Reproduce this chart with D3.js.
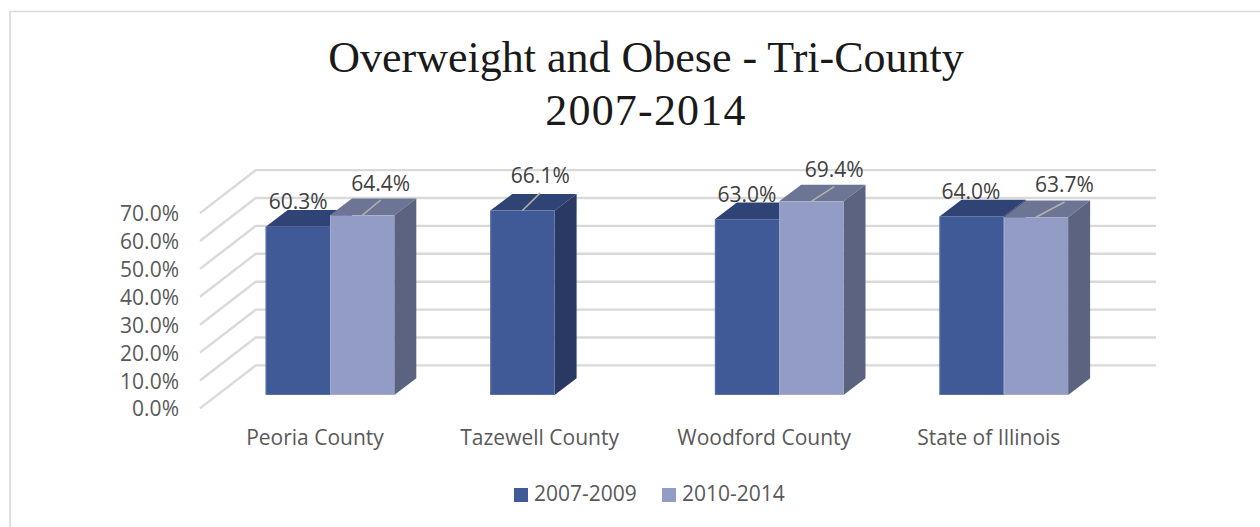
<!DOCTYPE html>
<html lang="en">
<head>
  <meta charset="UTF-8">
  <title>Overweight and Obese - Tri-County</title>
  <script src="https://d3js.org/d3.v7.min.js"></script>
  <style>
    html, body { margin: 0; padding: 0; background: #fff; }
    svg { display: block; }
    text { font-family: "Open Sans", sans-serif; }
    .title { font-family: "Liberation Serif", serif; font-size: 44px; fill: #1a1a1a; text-anchor: middle; }
    .tick-label text, .cat { font-size: 21px; fill: #595959; }
    .value { font-size: 21px; fill: #404040; text-anchor: middle; }
    .legend { font-size: 21px; fill: #595959; }
  </style>
</head>
<body>
  <div id="chart"></div>
  <script>
    var categories = ["Peoria County", "Tazewell County", "Woodford County", "State of Illinois"];
    var seriesNames = ["2007-2009", "2010-2014"];
    var values2007 = [60.3, 66.1, 63.0, 64.0];
    var values2010 = [64.4, null, 69.4, 63.7];
    var yTicks = [0, 10, 20, 30, 40, 50, 60, 70];

    // the labels were dragged by hand in the original, [dx from bar left, dy from bar top]
    var nudges2007 = [[32.5, -17.5], [50, -27.2], [32, -17.2], [31.4, -17]];
    var nudges2010 = [[50.7, -24.8], null, [55, -24.2], [60.7, -24.8]];
    // categories with a leader line from the bar to its label
    var leaders2007 = [false, true, false, false];
    var leaders2010 = [true, false, true, true];

    var width = 1260, height = 527;
    var depthX = 22, depthY = 16.7;        // bar depth
    var wallX = 55.7, wallY = 43;          // side wall depth
    var backBase = 365.4, barBase = 395;
    var wallLeft = 200, gridRight = 1156;

    var colors = [
      { front: "#3f5a96", top: "#2f4374", side: "#2a3864", edge: "#5a72a8" },
      { front: "#929cc5", top: "#6d7594", side: "#5b6380", edge: "#a3acd0" }
    ];

    var svg = d3.select("#chart").append("svg")
      .attr("width", width)
      .attr("height", height);

    // chart area border
    svg.append("path")
      .attr("d", d3.line()([[10, height], [10, 11.5], [width, 11.5]]))
      .attr("fill", "none")
      .attr("stroke", "#d9d9d9")
      .attr("stroke-width", 1.6);

    svg.append("text").attr("class", "title").attr("x", 646).attr("y", 72)
      .text("Overweight and Obese - Tri-County");
    svg.append("text").attr("class", "title").attr("x", 646).attr("y", 125)
      .attr("letter-spacing", 1.2)
      .text("2007-2014");

    var y = d3.scaleLinear().domain([0, 70]).range([0, -195.3]);

    var x0 = d3.scaleBand()
      .domain(categories)
      .range([217.7, 1116.1]);

    var x1 = d3.scaleBand()
      .domain(seriesNames)
      .range([x0.bandwidth() / 2 - 64.3, x0.bandwidth() / 2 + 64.3]);

    // walls and gridlines
    var grid = svg.append("g");
    yTicks.forEach(function(t) {
      grid.append("path")
        .attr("d", d3.line()([
          [wallLeft, backBase + wallY + y(t)],
          [wallLeft + wallX, backBase + y(t)],
          [gridRight, backBase + y(t)]
        ]))
        .attr("fill", "none")
        .attr("stroke", "#d9d9d9")
        .attr("stroke-width", 2.4);
    });

    // value axis sits on the front edge of the side wall
    var axisG = svg.append("g")
      .attr("class", "tick-label")
      .attr("transform", "translate(184," + (backBase + wallY + 0.8) + ")")
      .call(d3.axisLeft(y)
        .tickValues(yTicks)
        .tickSize(0)
        .tickPadding(5)
        .tickFormat(function(d) { return d3.format(".1f")(d) + "%"; }));
    axisG.select(".domain").remove();

    // category axis
    var catAxis = svg.append("g")
      .attr("class", "tick-label")
      .attr("transform", "translate(-15,430)")
      .call(d3.axisBottom(x0).tickSize(0).tickPadding(0));
    catAxis.select(".domain").remove();

    function drawBar(g, left, top, w, c) {
      // top face
      g.append("path")
        .attr("d", d3.line()([[left, top], [left + depthX, top - depthY], [left + w + depthX, top - depthY], [left + w, top]]) + "Z")
        .attr("fill", c.top);
      // side face
      g.append("path")
        .attr("d", d3.line()([[left + w, top], [left + w + depthX, top - depthY], [left + w + depthX, barBase - depthY], [left + w, barBase]]) + "Z")
        .attr("fill", c.side);
      // front face
      g.append("rect")
        .attr("x", left).attr("y", top)
        .attr("width", w).attr("height", barBase - top)
        .attr("fill", c.front);
      g.append("path")
        .attr("d", d3.line()([[left + 0.5, top], [left + 0.5, barBase - 0.5], [left + w, barBase - 0.5]]))
        .attr("fill", "none")
        .attr("stroke", c.edge)
        .attr("stroke-width", 1);
    }

    var series = [
      { name: seriesNames[0], values: values2007, nudges: nudges2007, leaders: leaders2007, color: colors[0] },
      { name: seriesNames[1], values: values2010, nudges: nudges2010, leaders: leaders2010, color: colors[1] }
    ];

    var bars = svg.append("g");
    var labels = svg.append("g");

    categories.forEach(function(cat, i) {
      series.forEach(function(s) {
        var v = s.values[i];
        if (v === null) return;
        var left = x0(cat) + x1(s.name);
        var top = barBase + y(v);
        var w = x1.bandwidth();
        drawBar(bars, left, top, w, s.color);

        var lx = left + s.nudges[i][0];
        var ly = top + s.nudges[i][1];
        if (s.leaders[i]) {
          labels.append("line")
            .attr("x1", left + w / 2).attr("y1", top)
            .attr("x2", lx).attr("y2", ly + 9.5)
            .attr("stroke", "#b3b3ab")
            .attr("stroke-width", 1.5);
        }
        labels.append("text")
          .attr("class", "value")
          .attr("x", lx).attr("y", ly)
          .text(d3.format(".1f")(v) + "%");
      });
    });

    // legend
    var legendX = d3.scalePoint().domain(seriesNames).range([514, 662]);
    seriesNames.forEach(function(name, i) {
      svg.append("rect")
        .attr("x", legendX(name)).attr("y", 488)
        .attr("width", 14).attr("height", 14)
        .attr("fill", colors[i].front);
      svg.append("text")
        .attr("class", "legend")
        .attr("x", legendX(name) + 20).attr("y", 501)
        .text(name);
    });
  </script>
</body>
</html>
